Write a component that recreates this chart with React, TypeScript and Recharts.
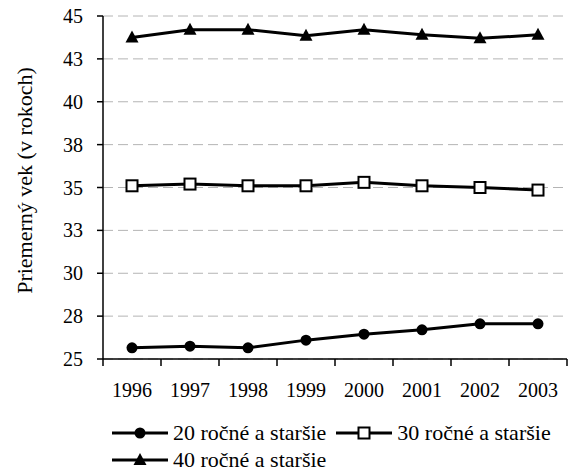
import { LineChart, Line, XAxis, YAxis, CartesianGrid, Legend } from 'recharts'

const years = ['1996', '1997', '1998', '1999', '2000', '2001', '2002', '2003']
const age20 = [25.65, 25.75, 25.65, 26.1, 26.45, 26.7, 27.05, 27.05]
const age30 = [35.1, 35.2, 35.1, 35.1, 35.3, 35.1, 35.0, 34.85]
const age40 = [43.75, 44.2, 44.2, 43.85, 44.2, 43.9, 43.7, 43.9]
const yTicks = [25, 27.5, 30, 32.5, 35, 37.5, 40, 42.5, 45]
const seriesNames = ['20 ročné a staršie', '30 ročné a staršie', '40 ročné a staršie']
const markerKinds = ['circle', 'square', 'triangle']

const data = years.map((year, i) => ({ year, a20: age20[i], a30: age30[i], a40: age40[i] }))

const W = 569
const H = 473
const margin = { top: 16, right: 2, bottom: 0, left: 0 }
const yAxisWidth = 103
const halfBand = (W - margin.left - margin.right - yAxisWidth) / years.length / 2
const FONT = '"Liberation Serif"'

function Marker({ kind, cx, cy }: { kind: string; cx: number; cy: number }) {
  if (kind === 'circle') return <circle cx={cx} cy={cy} r={5.5} fill="#000" />
  if (kind === 'square')
    return <rect x={cx - 5.5} y={cy - 5.5} width={11} height={11} fill="#fff" stroke="#000" strokeWidth={2} />
  return <polygon points={`${cx},${cy - 7} ${cx + 6.5},${cy + 5} ${cx - 6.5},${cy + 5}`} fill="#000" />
}

const dotFor = (kind: string) => (p: any) => <Marker key={`${kind}-${p.index}`} kind={kind} cx={p.cx} cy={p.cy} />

function YearTick({ x, y, payload, index }: any) {
  return (
    <g>
      <line x1={x - halfBand} y1={y} x2={x - halfBand} y2={y + 7} stroke="#000" strokeWidth={1.5} />
      {index === years.length - 1 && (
        <line x1={x + halfBand} y1={y} x2={x + halfBand} y2={y + 7} stroke="#000" strokeWidth={1.5} />
      )}
      <text x={x} y={y + 38} textAnchor="middle" fontSize={20} style={{ fontFamily: FONT }} fill="#000">
        {payload.value}
      </text>
    </g>
  )
}

function LegendItem({ i }: { i: number }) {
  return (
    <div style={{ display: 'flex', alignItems: 'center', height: 27, marginRight: 10 }}>
      <svg width={56} height={20}>
        <line x1={0} y1={10} x2={56} y2={10} stroke="#000" strokeWidth={3} />
        <Marker kind={markerKinds[i]} cx={28} cy={10} />
      </svg>
      <span style={{ marginLeft: 5, whiteSpace: 'nowrap' }}>{seriesNames[i]}</span>
    </div>
  )
}

function LegendBox() {
  return (
    <div style={{ fontFamily: FONT, fontSize: 22, color: '#000', paddingTop: 10, lineHeight: '27px' }}>
      <div style={{ display: 'flex' }}>
        <LegendItem i={0} />
        <LegendItem i={1} />
      </div>
      <div style={{ display: 'flex' }}>
        <LegendItem i={2} />
      </div>
    </div>
  )
}

function YLabel({ viewBox }: any) {
  const cy = viewBox.y + viewBox.height / 2 - 7
  return (
    <text
      x={24}
      y={cy}
      transform={`rotate(-90 24 ${cy})`}
      textAnchor="middle"
      dominantBaseline="central"
      fontSize={22}
      style={{ fontFamily: FONT }}
      fill="#000"
    >
      Priemerný vek (v rokoch)
    </text>
  )
}

export default function App() {
  return (
    <div style={{ position: 'absolute', left: 0, top: 0, width: W, height: H, background: '#fff', fontFamily: FONT }}>
      <LineChart width={W} height={H} data={data} margin={margin} style={{ fontFamily: FONT }}>
        <CartesianGrid vertical={false} stroke="#b4b4b4" strokeDasharray="10 5" />
        <XAxis
          dataKey="year"
          scale="band"
          height={50}
          tickSize={0}
          tickMargin={0}
          tickLine={false}
          axisLine={{ stroke: '#000', strokeWidth: 1.5 }}
          tick={<YearTick />}
          interval={0}
        />
        <XAxis
          xAxisId="top"
          dataKey="year"
          scale="band"
          orientation="top"
          height={0}
          tick={false}
          tickLine={false}
          axisLine={{ stroke: '#808080', strokeWidth: 1.5 }}
        />
        <YAxis
          width={yAxisWidth}
          domain={[25, 45]}
          ticks={yTicks}
          interval={0}
          tickFormatter={(v: number) => String(Math.round(v))}
          tickSize={6}
          tickMargin={14}
          tickLine={{ stroke: '#000', strokeWidth: 1.5 }}
          axisLine={{ stroke: '#000', strokeWidth: 1.5 }}
          tick={{ fill: '#000', fontSize: 20, style: { fontFamily: FONT } }}
          label={<YLabel />}
        />
        <YAxis
          yAxisId="right"
          orientation="right"
          width={0}
          domain={[25, 45]}
          tick={false}
          tickLine={false}
          axisLine={{ stroke: '#808080', strokeWidth: 1.5 }}
        />
        <Legend
          verticalAlign="bottom"
          align="left"
          content={<LegendBox />}
          wrapperStyle={{ left: 112, width: 460, height: 64 }}
        />
        <Line dataKey="a20" name={seriesNames[0]} stroke="#000" strokeWidth={3} dot={dotFor('circle')} isAnimationActive={false} />
        <Line dataKey="a30" name={seriesNames[1]} stroke="#000" strokeWidth={3} dot={dotFor('square')} isAnimationActive={false} />
        <Line dataKey="a40" name={seriesNames[2]} stroke="#000" strokeWidth={3} dot={dotFor('triangle')} isAnimationActive={false} />
      </LineChart>
    </div>
  )
}
